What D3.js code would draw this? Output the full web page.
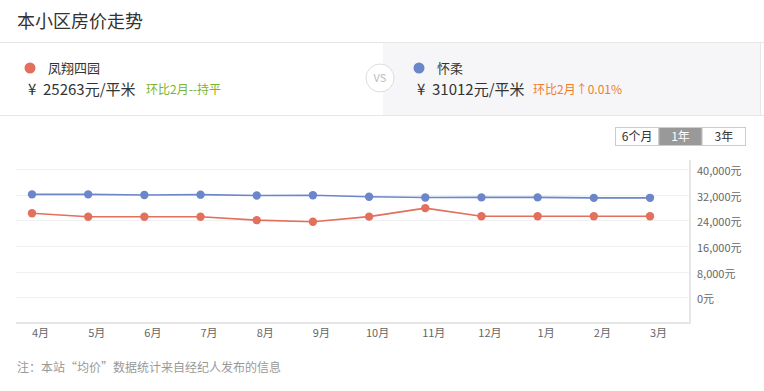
<!DOCTYPE html>
<html>
<head>
<meta charset="utf-8">
<script src="https://cdn.jsdelivr.net/npm/d3@7/dist/d3.min.js"></script>
<style>
  body { margin: 0; background: #fff; }
  svg { display: block; font-family: "Noto Sans CJK SC", "Noto Sans", sans-serif; }
</style>
</head>
<body>
<div id="chart"></div>
<script>
// data
var months = ["4月", "5月", "6月", "7月", "8月", "9月", "10月", "11月", "12月", "1月", "2月", "3月"];
var fengxiang = [26200, 25100, 25100, 25100, 24050, 23550, 25150, 27800, 25263, 25263, 25263, 25263];
var huairou = [32100, 32100, 31900, 32000, 31750, 31800, 31350, 31100, 31150, 31150, 31009, 31012];
var yTicks = [0, 8000, 16000, 24000, 32000, 40000];
var ranges = ["6个月", "1年", "3年"];

var width = 764, height = 391;
var red = "#e36f5d", blue = "#6b86c9";

var svg = d3.select("#chart").append("svg")
    .attr("width", width)
    .attr("height", height);

// title
svg.append("text")
    .attr("x", 17).attr("y", 28)
    .style("font-size", "18px").style("fill", "#333")
    .text("本小区房价走势");

// compare panel
svg.append("rect")
    .attr("x", 383).attr("y", 42).attr("width", 377).attr("height", 73)
    .style("fill", "#f6f6f8");
svg.append("line")
    .attr("x1", 0).attr("x2", 764).attr("y1", 42.5).attr("y2", 42.5)
    .style("stroke", "#e6e6e6");
svg.append("line")
    .attr("x1", 0).attr("x2", 764).attr("y1", 115.5).attr("y2", 115.5)
    .style("stroke", "#e6e6e6");
svg.append("line")
    .attr("x1", 760.5).attr("x2", 760.5).attr("y1", 42).attr("y2", 115)
    .style("stroke", "#e6e6e6");

svg.append("circle")
    .attr("cx", 380).attr("cy", 78).attr("r", 14)
    .style("fill", "#fff").style("stroke", "#ddd");
svg.append("text")
    .attr("x", 380).attr("y", 82)
    .attr("text-anchor", "middle")
    .style("font-size", "11px").style("fill", "#bbb")
    .text("VS");

var cards = [
    {x: 30, name: "凤翔四园", color: red, price: "¥  25263元/平米", change: "环比2月--持平", changeColor: "#7cb42e", cx: 146},
    {x: 419, name: "怀柔", color: blue, price: "¥  31012元/平米", change: "环比2月↑0.01%", changeColor: "#f07d2a", cx: 533}
];
cards.forEach(function(c) {
    svg.append("circle")
        .attr("cx", c.x).attr("cy", 68).attr("r", 5.5)
        .style("fill", c.color);
    svg.append("text")
        .attr("x", c.x + 18).attr("y", 72.5)
        .style("font-size", "13px").style("fill", "#333")
        .text(c.name);
    svg.append("text")
        .attr("x", c.x - 2).attr("y", 95)
        .style("font-size", "15px").style("fill", "#333")
        .style("white-space", "pre")
        .text(c.price);
    svg.append("text")
        .attr("x", c.cx).attr("y", 94)
        .style("font-size", "12px").style("fill", c.changeColor)
        .text(c.change);
});

// range buttons
var btnX = d3.scaleBand().domain(ranges).range([615, 745]);
var btn = svg.selectAll(".btn").data(ranges).enter().append("g")
    .attr("class", "btn")
    .attr("transform", function(d) { return "translate(" + btnX(d) + ",127)"; });
btn.append("rect")
    .attr("x", 0.5).attr("y", 0.5)
    .attr("width", btnX.bandwidth()).attr("height", 18)
    .style("fill", function(d) { return d == "1年" ? "#999" : "#fff"; })
    .style("stroke", "#ccc");
btn.append("text")
    .attr("x", btnX.bandwidth() / 2 + 0.5).attr("y", 14)
    .attr("text-anchor", "middle")
    .style("font-size", "12px")
    .style("fill", function(d) { return d == "1年" ? "#fff" : "#333"; })
    .text(function(d) { return d; });

// scales
var x = d3.scalePoint()
    .domain(months)
    .range([32, 650]);

var y = d3.scaleLinear()
    .domain([-8000, 40000])
    .range([323, 169]);

// grid
svg.append("g").selectAll("line")
    .data(yTicks).enter().append("line")
    .attr("x1", 16).attr("x2", 690)
    .attr("y1", function(d) { return Math.round(y(d)) + 0.5; })
    .attr("y2", function(d) { return Math.round(y(d)) + 0.5; })
    .style("stroke", "#f0f0f0");

// frame
svg.append("line")
    .attr("x1", 16).attr("x2", 691).attr("y1", 323).attr("y2", 323)
    .style("stroke", "#e6e6e6").style("stroke-width", 2);
svg.append("line")
    .attr("x1", 690).attr("x2", 690).attr("y1", 160).attr("y2", 323)
    .style("stroke", "#e6e6e6").style("stroke-width", 2);

// y axis labels
var yAxis = d3.axisRight(y)
    .tickValues(yTicks)
    .tickSize(0)
    .tickPadding(0)
    .tickFormat(function(d) { return d3.format(",")(d) + "元"; });
var gy = svg.append("g")
    .attr("transform", "translate(697,2)")
    .call(yAxis);
gy.select(".domain").remove();
gy.selectAll("text")
    .style("font-size", "11px").style("fill", "#666")
    .style("font-family", "\"Noto Sans CJK SC\", sans-serif");

// x axis labels
var xAxis = d3.axisBottom(x).tickSize(0).tickPadding(0);
var gx = svg.append("g")
    .attr("transform", "translate(8,329)")
    .call(xAxis);
gx.select(".domain").remove();
gx.selectAll("text")
    .style("font-size", "11px").style("fill", "#666")
    .style("font-family", "\"Noto Sans CJK SC\", sans-serif");

// lines
var series = [
    {values: huairou, color: blue},
    {values: fengxiang, color: red}
];
var line = d3.line()
    .x(function(d, i) { return x(months[i]); })
    .y(function(d) { return y(d); });

series.forEach(function(s) {
    svg.append("path")
        .datum(s.values)
        .attr("d", line)
        .style("fill", "none")
        .style("stroke", s.color)
        .style("stroke-width", 1.6);
    svg.append("g").selectAll("circle")
        .data(s.values).enter().append("circle")
        .attr("cx", function(d, i) { return x(months[i]); })
        .attr("cy", function(d) { return y(d); })
        .attr("r", 4.2)
        .style("fill", s.color);
});

// footnote
svg.append("text")
    .attr("x", 17).attr("y", 372)
    .style("font-size", "12px").style("fill", "#999")
    .text("注：本站“均价”数据统计来自经纪人发布的信息");
</script>
</body>
</html>
